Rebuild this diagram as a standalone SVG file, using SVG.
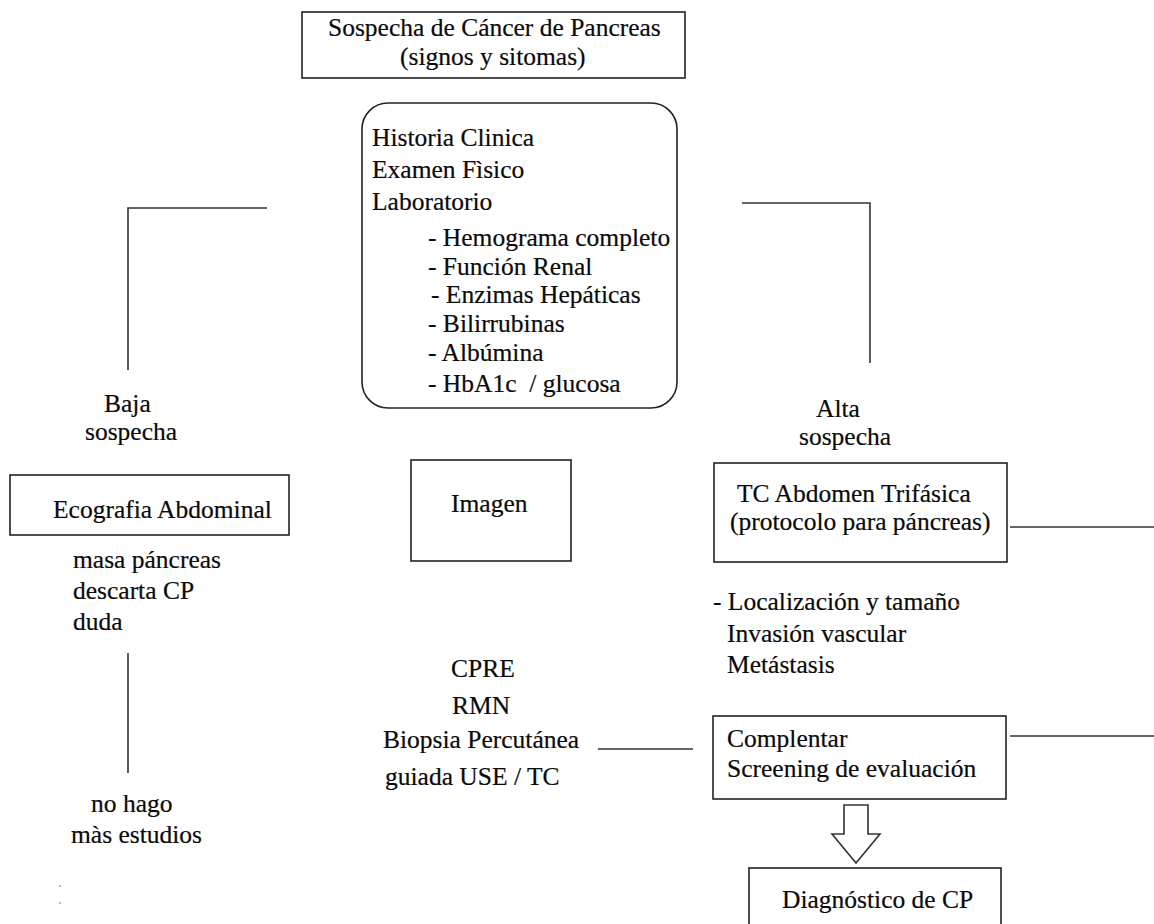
<svg xmlns="http://www.w3.org/2000/svg" width="1154" height="924" viewBox="0 0 1154 924">
  <style>
    .box { fill: #ffffff; stroke: #222222; stroke-width: 1.6; }
    .wire { fill: none; stroke: #333333; stroke-width: 1.6; }
    text {
      font-family: "Liberation Serif", "Times New Roman", serif;
      font-size: 25.5px; fill: #0a0a0a; white-space: pre;
      stroke: #0a0a0a; stroke-width: 0.2;
    }
  </style>
  <rect width="1154" height="924" fill="#ffffff"/>

  <!-- connectors -->
  <g id="connectors">
    <polyline class="wire" points="267,208 128,208 128,370"/>
    <polyline class="wire" points="742,203 870,203 870,363"/>
    <line class="wire" x1="1010" y1="527" x2="1154" y2="527"/>
    <line class="wire" x1="128" y1="653" x2="128" y2="773"/>
    <line class="wire" x1="598" y1="749" x2="693" y2="749"/>
    <line class="wire" x1="1010" y1="736" x2="1154" y2="736"/>
    <!-- hollow block arrow down to the diagnosis -->
    <polygon class="wire" points="844,805 868,805 868,834 880,834 856,863 832,834 844,834"/>
  </g>

  <g id="sospecha">
    <rect class="box" x="302" y="12" width="383" height="66"/>
    <text x="328" y="36">Sospecha de Cáncer de Pancreas</text>
    <text x="400" y="65">(signos y sitomas)</text>
  </g>

  <g id="evaluacion">
    <rect class="box" x="362" y="103" width="315" height="305" rx="26" ry="26"/>
    <text x="372" y="146">Historia Clinica</text>
    <text x="372" y="178">Examen Fìsico</text>
    <text x="372" y="210">Laboratorio</text>
    <text x="428" y="246">- Hemograma completo</text>
    <text x="428" y="275">- Función Renal</text>
    <text x="431" y="303">- Enzimas Hepáticas</text>
    <text x="428" y="332">- Bilirrubinas</text>
    <text x="428" y="361">- Albúmina</text>
    <text x="428" y="392">- HbA1c  / glucosa</text>
  </g>

  <g id="baja">
    <text x="104" y="412">Baja</text>
    <text x="85" y="440">sospecha</text>
  </g>

  <g id="alta">
    <text x="816" y="417">Alta</text>
    <text x="799" y="445">sospecha</text>
  </g>

  <g id="ecografia">
    <rect class="box" x="10" y="475" width="279" height="60"/>
    <text x="53" y="518">Ecografia Abdominal</text>
  </g>

  <g id="ecografia-resultados">
    <text x="73" y="568">masa páncreas</text>
    <text x="73" y="599">descarta CP</text>
    <text x="73" y="630">duda</text>
  </g>

  <g id="no-estudios">
    <text x="91" y="812">no hago</text>
    <text x="71" y="843">màs estudios</text>
    <circle cx="60" cy="886" r="0.8" fill="#a05050"/>
    <circle cx="60" cy="903" r="0.8" fill="#a05050"/>
  </g>

  <g id="imagen">
    <rect class="box" x="411" y="460" width="160" height="101"/>
    <text x="451" y="512">Imagen</text>
  </g>

  <g id="otros-estudios">
    <text x="451" y="677">CPRE</text>
    <text x="452" y="714">RMN</text>
    <text x="383" y="748">Biopsia Percutánea</text>
    <text x="385" y="785">guiada USE / TC</text>
  </g>

  <g id="tc-abdomen">
    <rect class="box" x="714" y="463" width="293" height="99"/>
    <text x="737" y="502">TC Abdomen Trifásica</text>
    <text x="730" y="530">(protocolo para páncreas)</text>
  </g>

  <g id="tc-hallazgos">
    <text x="713" y="610">- Localización y tamaño</text>
    <circle cx="958" cy="605" r="1" fill="#f0a040"/>
    <text x="727" y="642">Invasión vascular</text>
    <text x="727" y="673">Metástasis</text>
  </g>

  <g id="complementar">
    <rect class="box" x="713" y="716" width="293" height="83"/>
    <text x="727" y="747">Complentar</text>
    <text x="727" y="777">Screening de evaluación</text>
  </g>

  <g id="diagnostico">
    <rect class="box" x="749" y="868" width="252" height="70"/>
    <text x="782" y="908">Diagnóstico de CP</text>
  </g>
</svg>
